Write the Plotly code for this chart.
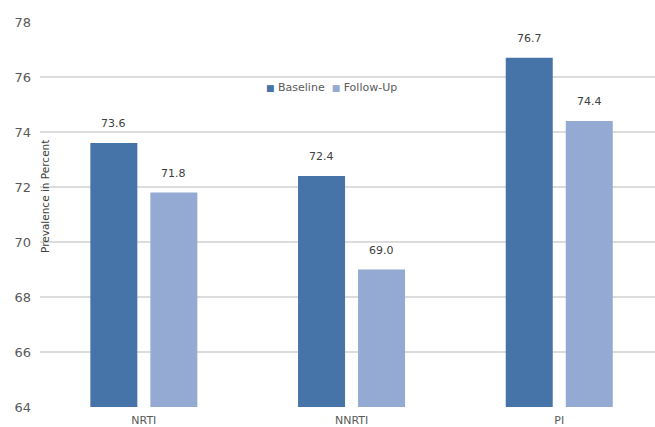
import plotly.graph_objects as go

categories = ["NRTI", "NNRTI", "PI"]
baseline = [73.6, 72.4, 76.7]
follow_up = [71.8, 69.0, 74.4]
series_names = ["Baseline", "Follow-Up"]
colors = ["#4673A8", "#95AAD2"]
font = "DejaVu Sans"

fig = go.Figure()
offsets = [-0.145, 0.145]
for name, vals, c, off in zip(series_names, [baseline, follow_up], colors, offsets):
    fig.add_trace(go.Bar(
        x=categories, y=vals, name=name, marker_color=c,
        marker_line_width=0, showlegend=False,
    ))
    for i, v in enumerate(vals):
        fig.add_annotation(x=i + off, y=v, xref="x", yref="y", text=f"{v:.1f}",
                           showarrow=False, yanchor="bottom", yshift=11,
                           font=dict(family=font, size=11, color="#404040"))

fig.update_layout(
    width=655, height=427,
    margin=dict(l=40, r=0, t=22, b=20),
    paper_bgcolor="white", plot_bgcolor="white",
    barmode="group", bargap=0.422, bargroupgap=0.217,
    font=dict(family=font, size=11, color="#595959"),
    showlegend=False,
)
fig.update_xaxes(range=[-0.5, 2.461], showgrid=False, showline=False, ticks="",
                 ticklabelstandoff=5, tickfont=dict(size=11, color="#595959"))
fig.update_yaxes(range=[64, 78], dtick=2, showgrid=True, gridcolor="#DCDCDC", gridwidth=2,
                 zeroline=False, showline=False, ticks="", ticklabelstandoff=8,
                 tickfont=dict(size=13, color="#595959"))
fig.add_annotation(text="Prevalence in Percent", textangle=-90, xref="paper", yref="paper",
                   x=5 / 615, xanchor="center", y=(427 - 20 - 197) / 385, yanchor="middle",
                   showarrow=False, font=dict(family=font, size=10.5, color="#404040"))

legend_text = "&nbsp;&nbsp;".join(
    f'<span style="color:{c};font-size:9px">■</span>&nbsp;{n}' for n, c in zip(series_names, colors)
)
fig.add_annotation(text=legend_text, xref="paper", yref="paper",
                   x=(331 - 40) / 615, xanchor="center", y=(427 - 20 - 88) / 385, yanchor="middle",
                   showarrow=False, font=dict(family=font, size=11, color="#595959"))

fig.write_html("out.html")
